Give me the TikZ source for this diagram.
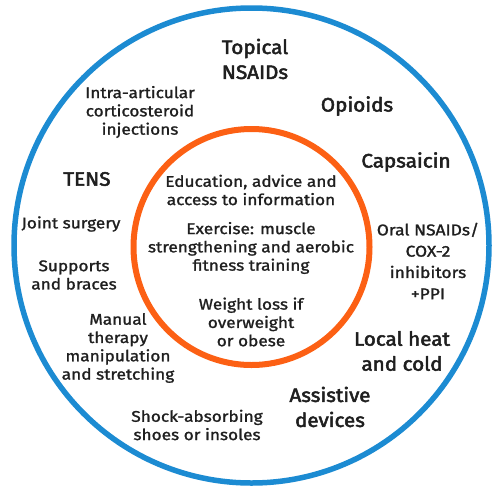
\documentclass[tikz,border=0pt]{standalone}
\usepackage{fontspec}
\setmainfont{Fira Sans}
\newfontfamily\smallfont{Fira Sans}[FakeBold=1.4,FakeStretch=1.12]
\newfontfamily\bigfont{Fira Sans}[FakeBold=2.6,FakeStretch=1.06]
\usepackage{xcolor}
\usepackage{tikz}
\usetikzlibrary{positioning}
\definecolor{ringblue}{RGB}{28,139,210}
\definecolor{ringorange}{RGB}{252,96,20}
\tikzset{
  small/.style={align=center,font=\smallfont\fontsize{15.4}{18.3}\selectfont,text=black!88,inner sep=0pt},
  big/.style={align=center,font=\bigfont\fontsize{19.5}{25}\selectfont,text=black!88,inner sep=0pt}
}

\begin{document}
\begin{tikzpicture}[x=1pt,y=-1pt]
\useasboundingbox (0,0) rectangle (501,493);
\coordinate (C) at (251.5,245.5);
\draw[ringblue,line width=5.5pt] (C) circle (237.5);
\draw[ringorange,line width=6pt] (251.5,247) circle (118);
% outer ring
\node[big] (topical) at (255,59) {Topical\\NSAIDs};
\node[small] (intra) at (140,112) {Intra-articular\\corticosteroid\\injections};
\node[big] (opioids) at (357,106) {Opioids};
\node[big] (capsaicin) at (406,162) {Capsaicin};
\node[big] (tens) at (87,179) {TENS};
\node[small] (surgery) at (71,224) {Joint surgery};
\node[small] (supports) at (74,275) {Supports\\and braces};
\node[small] (manual) at (118,348) {Manual\\therapy\\manipulation\\and stretching};
\node[small] (shock) at (197,425) {Shock-absorbing\\shoes or insoles};
\node[big] (assistive) at (330,407) {Assistive\\devices};
\node[big] (heat) at (402,351) {Local heat\\and cold};
\node[small,font=\smallfont\fontsize{15.6}{21.3}\selectfont] (oral) at (428,261) {Oral NSAIDs/\\COX-2\\inhibitors\\+PPI};
% inner circle
\node[small] (education) at (251,190) {Education, advice and\\access to information};
\node[small] (exercise) at (251,248) {Exercise: muscle\\strengthening and aerobic\\fitness training};
\node[small] (weight) at (251,322) {Weight loss if\\overweight\\or obese};
\end{tikzpicture}
\end{document}
